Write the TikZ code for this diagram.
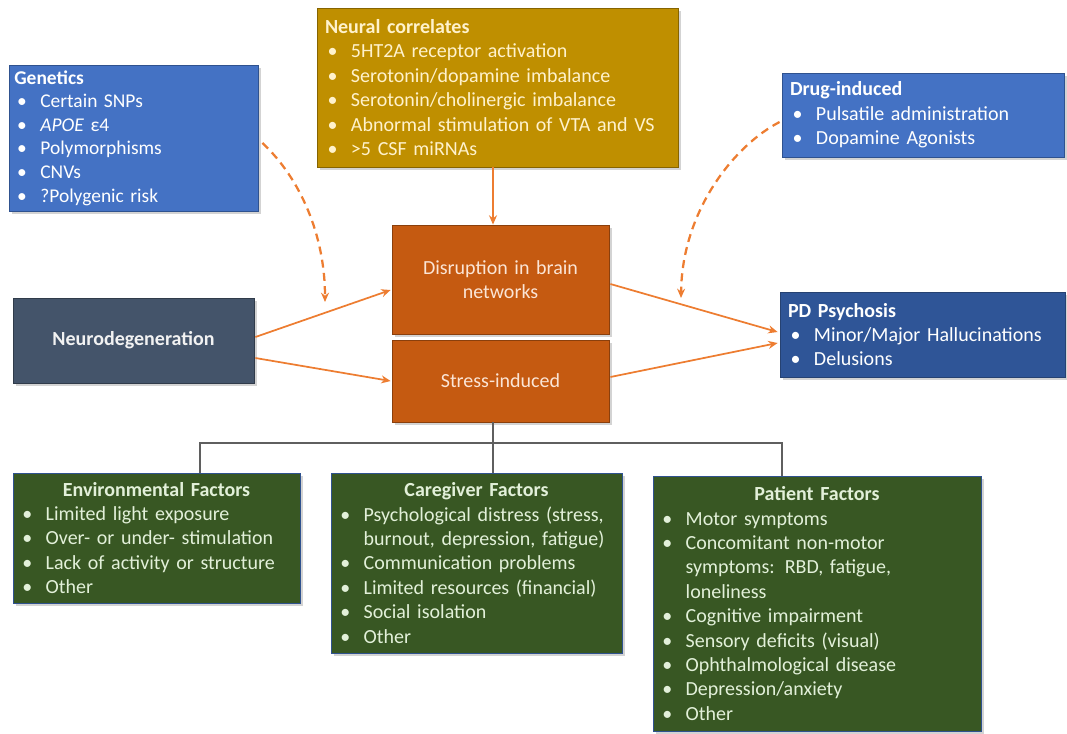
\documentclass[tikz,border=0pt]{standalone}
\usepackage{fontspec}
\setmainfont{Carlito}
\usetikzlibrary{arrows.meta,shadows,calc}
\definecolor{blueA}{HTML}{4472C4}
\definecolor{blueB}{HTML}{2F5597}
\definecolor{goldA}{HTML}{BF8F00}
\definecolor{orangeBox}{HTML}{C55A11}
\definecolor{neuroC}{HTML}{44546A}
\definecolor{greenA}{HTML}{385723}
\definecolor{arrowC}{HTML}{ED7D31}
\definecolor{treeC}{HTML}{5F5F5F}
\definecolor{outlineC}{HTML}{2F528F}
\definecolor{goldText}{HTML}{FFF2CC}
\definecolor{orangeText}{HTML}{FBE5D6}
\definecolor{greenText}{HTML}{E2F0D9}
\newcommand\bul[1]{\makebox[19.5pt][l]{\hspace{2pt}•}#1}
\newcommand\cont{\hspace*{19.5pt}}
\begin{document}
\begin{tikzpicture}[x=0.75pt,y=-0.75pt,
  box/.style={rectangle, fill=#1, draw=#1!70!black, line width=0.6pt,
    inner xsep=6pt, inner ysep=2pt, align=left,
    font=\fontsize{15}{18.3}\selectfont,
    drop shadow={opacity=0.35, shadow xshift=2pt, shadow yshift=-2pt}},
  arr/.style={draw=arrowC, line width=1.3pt, -{Stealth[length=7pt,width=6pt]}},
  darr/.style={arr, dash pattern=on 6pt off 4pt, line width=1.7pt},
  tree/.style={draw=treeC, line width=1.1pt}]
\useasboundingbox (0,0) rectangle (1067,733);

% top boxes
\node[box=blueA, draw=outlineC, text=white, inner xsep=4pt,
  font=\fontsize{14.6}{17.7}\selectfont,
  minimum width=186.75pt, minimum height=109.5pt, text width=178.75pt]
  (gen) at (133.5,138)
  {\textbf{Genetics}\\ \bul{Certain SNPs}\\ \bul{\textit{APOE} ε4}\\ \bul{Polymorphisms}\\ \bul{CNVs}\\ \bul{?Polygenic risk}};

\node[box=goldA, text=goldText,
  minimum width=270.75pt, minimum height=119.25pt, text width=258.75pt]
  (neural) at (497.5,87.5)
  {\textbf{Neural correlates}\\ \bul{5HT2A receptor activation}\\ \bul{Serotonin/dopamine imbalance}\\ \bul{Serotonin/cholinergic imbalance}\\ \bul{Abnormal stimulation of VTA and VS}\\ \bul{>5 CSF miRNAs}};

\node[box=blueA, draw=outlineC, text=white,
  minimum width=211.5pt, minimum height=63pt, text width=199.5pt]
  (drug) at (923,115)
  {\textbf{Drug-induced}\\ \bul{Pulsatile administration}\\ \bul{Dopamine Agonists}};

% middle row
\node[box=neuroC, text=white!95!black, align=center,
  minimum width=180.75pt, minimum height=63.75pt, text width=168pt]
  (neuro) at (133.5,340.5) {\textbf{Neurodegeneration}};

\node[box=orangeBox, text=orangeText, align=center,
  minimum width=162.75pt, minimum height=81.75pt, text width=150pt]
  (disr) at (500.5,279.5) {Disruption in brain\\networks};

\node[box=orangeBox, text=orangeText, align=center,
  minimum width=162.75pt, minimum height=61.5pt, text width=150pt]
  (stress) at (500.5,381) {Stress-induced};

\node[box=blueB, draw=outlineC!80!black, text=white,
  minimum width=213.75pt, minimum height=63.75pt, text width=201.75pt]
  (pd) at (922.5,334.5)
  {\textbf{PD Psychosis}\\ \bul{Minor/Major Hallucinations}\\ \bul{Delusions}};

% bottom boxes
\node[box=greenA, draw=outlineC, text=greenText, inner xsep=5pt,
  minimum width=215.25pt, minimum height=97.5pt, text width=205.25pt]
  (env) at (156.5,538)
  {\makebox[\linewidth]{\textbf{Environmental Factors}}\\ \bul{Limited light exposure}\\ \bul{Over- or under- stimulation}\\ \bul{Lack of activity or structure}\\ \bul{Other}};

\node[box=greenA, draw=outlineC, text=greenText, inner xsep=5pt,
  minimum width=218.25pt, minimum height=135pt, text width=208.25pt]
  (care) at (476.5,563)
  {\makebox[\linewidth]{\textbf{Caregiver Factors}}\\ \bul{Psychological distress (stress,}\\ \cont burnout, depression, fatigue)\\ \bul{Communication problems}\\ \bul{Limited resources (financial)}\\ \bul{Social isolation}\\ \bul{Other}};

\node[box=greenA, draw=outlineC, text=greenText, inner xsep=5pt,
  minimum width=246pt, minimum height=191.25pt, text width=236pt]
  (pat) at (817,603.5)
  {\makebox[\linewidth]{\textbf{Patient Factors}}\\ \bul{Motor symptoms}\\ \bul{Concomitant non-motor}\\ \cont symptoms: RBD, fatigue,\\ \cont loneliness\\ \bul{Cognitive impairment}\\ \bul{Sensory deficits (visual)}\\ \bul{Ophthalmological disease}\\ \bul{Depression/anxiety}\\ \bul{Other}};

% helper coordinates
\coordinate (nx) at (493,0);
\coordinate (hl) at (200,443);
\coordinate (hr) at (782,443);
\coordinate (gtip) at (325,302);
\coordinate (dtip) at (681,298);

% solid arrows
\draw[arr] (neural.south -| nx) -- (disr.north -| nx);
\draw[arr] ($(neuro.east)+(1,-3.5)$) -- ($(disr.west)+(-1,10.5)$);
\draw[arr] ($(neuro.east)+(1,17.5)$) -- ($(stress.west)+(-1,0)$);
\draw[arr] ($(disr.east)+(1,4.5)$) -- ($(pd.west)+(-2,-2.5)$);
\draw[arr] ($(stress.east)+(1,-4)$) -- ($(pd.west)+(-2,8.5)$);

% dashed arrows
\draw[darr] ($(gen.east)+(4,5)$) .. controls (300,178) and (325,235) .. (gtip);
\draw[darr] ($(drug.west)+(-2,7)$) .. controls (735,145) and (682,210) .. (dtip);

% tree connector
\draw[tree] (stress.south -| nx) -- (care.north -| nx);
\draw[tree] (env.north -| hl) -- (hl) -- (hr) -- (pat.north -| hr);
\end{tikzpicture}
\end{document}
